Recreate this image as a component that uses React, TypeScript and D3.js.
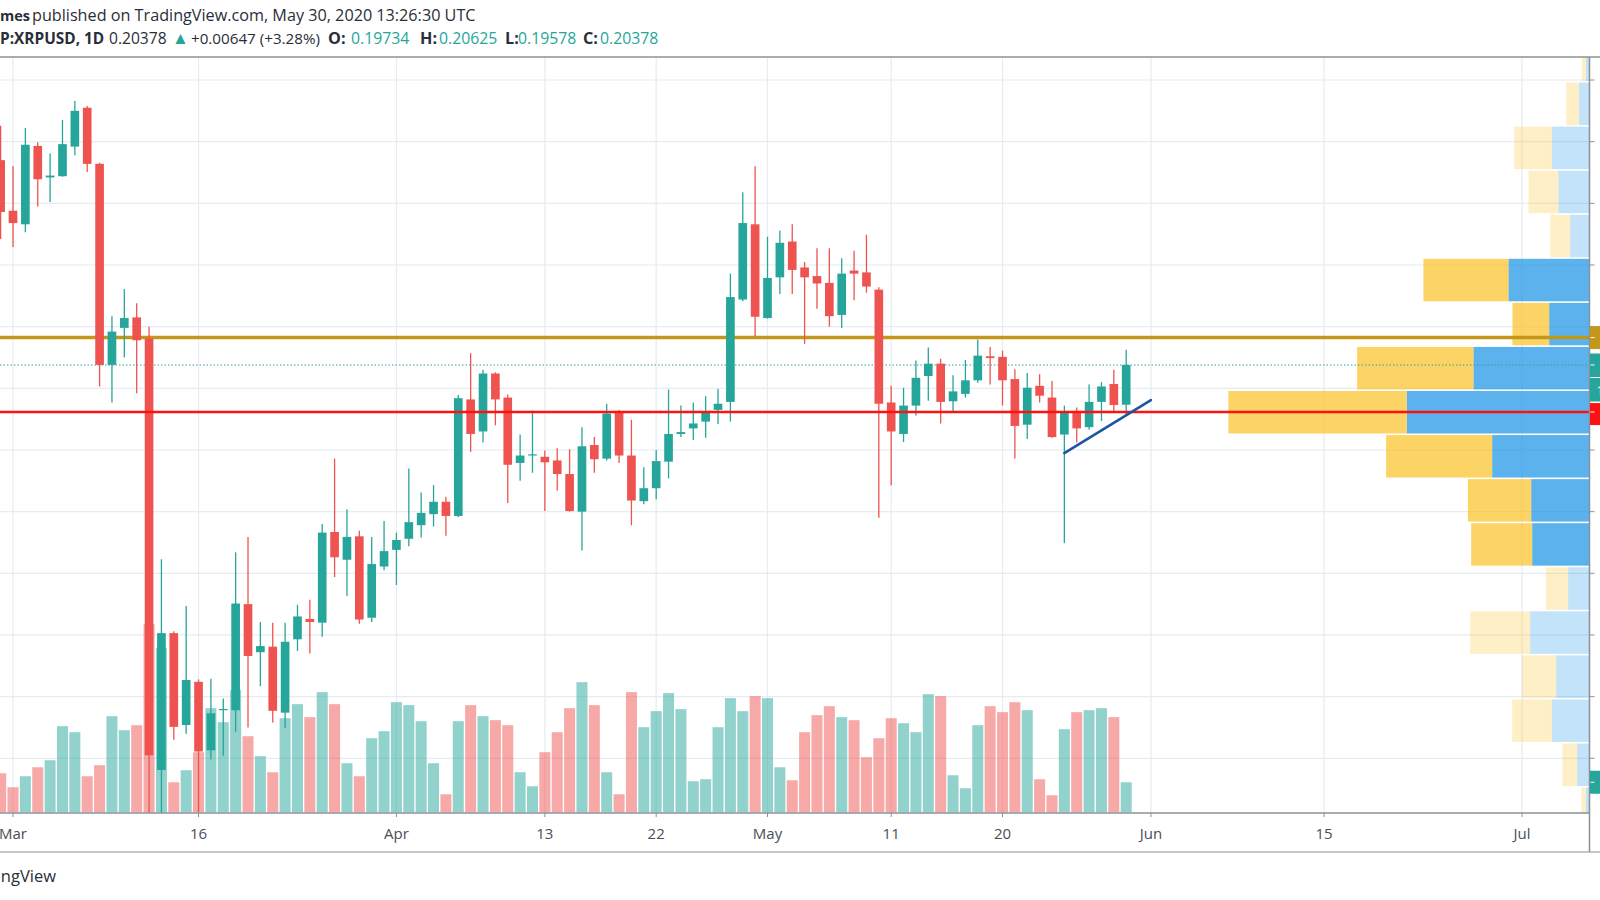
import React from "react";
import * as d3 from "d3";

// ---------- data ----------
const dates = [
  "2020-02-29",
  "2020-03-01","2020-03-02","2020-03-03","2020-03-04","2020-03-05","2020-03-06","2020-03-07","2020-03-08","2020-03-09","2020-03-10",
  "2020-03-11","2020-03-12","2020-03-13","2020-03-14","2020-03-15","2020-03-16","2020-03-17","2020-03-18","2020-03-19","2020-03-20",
  "2020-03-21","2020-03-22","2020-03-23","2020-03-24","2020-03-25","2020-03-26","2020-03-27","2020-03-28","2020-03-29","2020-03-30","2020-03-31",
  "2020-04-01","2020-04-02","2020-04-03","2020-04-04","2020-04-05","2020-04-06","2020-04-07","2020-04-08","2020-04-09","2020-04-10",
  "2020-04-11","2020-04-12","2020-04-13","2020-04-14","2020-04-15","2020-04-16","2020-04-17","2020-04-18","2020-04-19","2020-04-20",
  "2020-04-21","2020-04-22","2020-04-23","2020-04-24","2020-04-25","2020-04-26","2020-04-27","2020-04-28","2020-04-29","2020-04-30",
  "2020-05-01","2020-05-02","2020-05-03","2020-05-04","2020-05-05","2020-05-06","2020-05-07","2020-05-08","2020-05-09","2020-05-10",
  "2020-05-11","2020-05-12","2020-05-13","2020-05-14","2020-05-15","2020-05-16","2020-05-17","2020-05-18","2020-05-19","2020-05-20",
  "2020-05-21","2020-05-22","2020-05-23","2020-05-24","2020-05-25","2020-05-26","2020-05-27","2020-05-28","2020-05-29","2020-05-30",
];

const opens = [
  0.2370,
  0.2288,0.2266,0.2393,0.2342,0.2344,0.2392,0.2455,0.2364,0.2038,0.2098,
  0.2115,0.2081,0.1381,0.1603,0.1454,0.1524,0.1413,0.1478,0.1478,0.1650,
  0.1572,0.1581,0.1474,0.1593,0.1626,0.1620,0.1767,0.1722,0.1760,0.1628,0.1711,
  0.1738,0.1756,0.1778,0.1796,0.1816,0.1793,0.1982,0.1930,0.2024,0.1985,
  0.1879,0.1891,0.1889,0.1883,0.1861,0.1800,0.1908,0.1886,0.1962,0.1891,
  0.1817,0.1838,0.1881,0.1926,0.1935,0.1946,0.1965,0.1978,0.2144,0.2266,
  0.2114,0.2180,0.2238,0.2196,0.2182,0.2171,0.2119,0.2191,0.2188,0.2160,
  0.1977,0.1926,0.1972,0.2020,0.2040,0.1979,0.1991,0.2013,0.2052,0.2051,
  0.2015,0.1941,0.2004,0.1985,0.1925,0.1962,0.1937,0.1978,0.2007,0.19734,
];
const highs = [
  0.2426,
  0.2360,0.2422,0.2399,0.2381,0.2435,0.2466,0.2458,0.2366,0.2117,0.2161,
  0.2138,0.2100,0.1723,0.1606,0.1647,0.1528,0.1529,0.1497,0.1734,0.1759,
  0.1621,0.1620,0.1620,0.1649,0.1657,0.1780,0.1886,0.1804,0.1769,0.1759,0.1785,
  0.1766,0.1870,0.1831,0.1843,0.1824,0.1989,0.2057,0.2030,0.2026,0.1990,
  0.1925,0.1964,0.1899,0.1903,0.1901,0.1937,0.1921,0.1975,0.1965,0.1949,
  0.1872,0.1900,0.1998,0.1972,0.1977,0.1987,0.1999,0.2186,0.2318,0.2360,
  0.2246,0.2256,0.2266,0.2205,0.2227,0.2227,0.2211,0.2223,0.2249,0.2164,
  0.2004,0.2001,0.2045,0.2066,0.2048,0.2021,0.2046,0.2079,0.2067,0.2061,
  0.2031,0.2025,0.2023,0.2012,0.1972,0.1969,0.2006,0.2010,0.2030,0.20625,
];
const lows = [
  0.2242,
  0.2229,0.2253,0.2295,0.2302,0.2343,0.2378,0.2351,0.2003,0.1977,0.2050,
  0.1992,0.1250,0.1150,0.1430,0.1440,0.1313,0.1398,0.1404,0.1443,0.1450,
  0.1517,0.1458,0.1449,0.1574,0.1570,0.1597,0.1694,0.1663,0.1618,0.1621,0.1705,
  0.1681,0.1744,0.1758,0.1776,0.1761,0.1791,0.1897,0.1912,0.1940,0.1814,
  0.1850,0.1863,0.1801,0.1834,0.1800,0.1737,0.1863,0.1883,0.1879,0.1778,
  0.1812,0.1820,0.1854,0.1921,0.1916,0.1920,0.1942,0.1946,0.2141,0.2085,
  0.2113,0.2153,0.2153,0.2072,0.2129,0.2100,0.2098,0.2143,0.2155,0.1790,
  0.1843,0.1913,0.1956,0.1980,0.1943,0.1961,0.1985,0.2009,0.2006,0.1972,
  0.1886,0.1918,0.1977,0.1920,0.1749,0.1912,0.1933,0.1947,0.1960,0.19578,
];
const closes = [
  0.2286,
  0.2268,0.2395,0.2339,0.2345,0.2396,0.2450,0.2364,0.2038,0.2092,0.2114,
  0.2078,0.1405,0.1603,0.1451,0.1527,0.1411,0.1473,0.1480,0.1651,0.1566,
  0.1582,0.1477,0.1589,0.1630,0.1621,0.1766,0.1726,0.1759,0.1625,0.1715,0.1736,
  0.1754,0.1783,0.1798,0.1816,0.1793,0.1984,0.1926,0.2024,0.1982,0.1876,
  0.1891,0.1893,0.1880,0.1861,0.1801,0.1906,0.1885,0.1959,0.1891,0.1818,
  0.1838,0.1882,0.1926,0.1929,0.1943,0.1963,0.1975,0.2148,0.2268,0.2116,
  0.2179,0.2236,0.2192,0.2180,0.2170,0.2117,0.2186,0.2186,0.2165,0.1975,
  0.1930,0.1972,0.2017,0.2040,0.1978,0.1995,0.2013,0.2053,0.2049,0.2013,
  0.1939,0.2001,0.1988,0.1921,0.1962,0.1935,0.1978,0.2003,0.1973,0.20378,
];
// volume, millions of XRP (relative)
const volumes = [
  39,
  25,36,45,52,86,80,36,47,96,82,
  87,188,164,30,42,60,104,90,122,76,
  56,40,94,108,95,120,108,49,36,74,81,
  110,107,91,49,18,91,107,96,92,87,
  40,26,60,80,104,130,107,40,18,120,
  85,101,119,103,31,33,85,114,101,116,
  114,45,32,80,97,106,95,92,55,74,
  94,89,80,118,116,37,24,87,106,100,
  110,102,33,17,83,100,102,104,95,30,
];

// visible-range volume profile (top row first)
const profileTopPrice = 0.25683;
const profileRowSize = 0.007146;
const profileUp = [3.6, 10.3, 37.6, 31, 19.3, 81, 40.3, 116, 182.6, 97.3, 58.3, 57.3, 21.3, 59.3, 33.3, 37.6, 12.3, 3.6];
const profileDown = [4, 13, 37.7, 30, 20, 85, 36.7, 116.3, 178.4, 106, 63.3, 61, 22.3, 60, 34.3, 39.7, 14.7, 4.4];
const profileValueArea = [false, false, false, false, false, true, true, true, true, true, true, true, false, false, false, false, false, false];

const priceTicks = [0.14, 0.15, 0.16, 0.17, 0.18, 0.19, 0.2, 0.21, 0.22, 0.23, 0.24, 0.25];
const timeTickDates = ["2020-03-01","2020-03-16","2020-04-01","2020-04-13","2020-04-22","2020-05-01","2020-05-11","2020-05-20","2020-06-01","2020-06-15","2020-07-01"];
const timeTickLabels = ["Mar","16","Apr","13","22","May","11","20","Jun","15","Jul"];

const goldLevel = 0.20823;
const redLevel = 0.19615;
const lastPrice = 0.20378;
const trendStart = { date: "2020-05-25", price: 0.1895 };
const trendEnd = { date: "2020-06-01", price: 0.1981 };

// header legend: OHLC groups
const ohlcLabels = ["O:", "H:", "L:", "C:"];
const ohlcValues = ["0.19734", "0.20625", "0.19578", "0.20378"];
const ohlcLabelX = [328, 420, 505, 583];
const ohlcValueX = [351, 439, 518, 600];

// ---------- layout ----------
const W = 1600;
const H = 900;
const paneTop = 57;
const paneBottom = 813;
const paneRight = 1589.5;
const axisBottom = 852;

const UP = "#26a69a";
const DOWN = "#ef5350";
const FONT = "'Open Sans', 'Noto Sans', sans-serif";
const TEXT = "#2a2e39";

const parse = (s: string) => new Date(s + "T00:00:00Z");

export default function App() {
  const x = d3.scaleUtc().domain([parse("2020-03-01"), parse("2020-07-01")]).range([13, 1522]);
  const y = d3.scaleLinear().domain([0.14, 0.25]).range([758.3, 80]);
  const dayW = x(parse("2020-03-02")) - x(parse("2020-03-01"));
  const bodyW = dayW * 0.7;
  const volW = dayW * 0.89;
  const volMax = d3.max(volumes) as number;
  const yVol = d3.scaleLinear().domain([0, volMax]).range([paneBottom - 0.7, paneBottom - 0.7 - (paneBottom - paneTop) * 0.249]);
  const profMax = d3.max(profileUp.map((u, i) => u + profileDown[i])) as number;
  const wProf = d3.scaleLinear().domain([0, profMax]).range([0, paneRight * 0.2272]);

  const candles = dates.map((d, i) => ({
    x: x(parse(d)),
    o: opens[i], h: highs[i], l: lows[i], c: closes[i], v: volumes[i],
    up: closes[i] >= opens[i],
  }));

  const gridColor = "#e6ecf1";
  const axisColor = "#8d9097";
  const lastVol = volumes[volumes.length - 1];

  return (
    <svg width={W} height={H} style={{ position: "fixed", left: 0, top: 0, background: "#fff" }} fontFamily={FONT}>
      <defs>
        <clipPath id="pane">
          <rect x={0} y={paneTop} width={paneRight} height={paneBottom - paneTop} />
        </clipPath>
      </defs>
      <rect x={0} y={0} width={W} height={H} fill="#fff" />

      {/* header */}
      <text x={0} y={21} fontSize={14.5} fontWeight={700} fill={TEXT}>mes</text>
      <text x={32} y={21} fontSize={16.2} fill={TEXT}>published on TradingView.com, May 30, 2020 13:26:30 UTC</text>
      <text x={0} y={44} fontSize={15.4} fontWeight={700} fill={TEXT}>P:XRPUSD, 1D</text>
      <text x={109} y={44} fontSize={15.6} fill={TEXT}>0.20378</text>
      <text x={172} y={44} fontSize={17} fill={UP}>▲</text>
      <text x={191} y={44} fontSize={15.2} fill={TEXT}>+0.00647 (+3.28%)</text>
      {ohlcLabels.map((lab, i) => (
        <g key={"ohlc" + i}>
          <text x={ohlcLabelX[i]} y={44} fontSize={16.2} fontWeight={700} fill={TEXT}>{lab}</text>
          <text x={ohlcValueX[i]} y={44} fontSize={15.8} fill={UP}>{ohlcValues[i]}</text>
        </g>
      ))}

      {/* grid */}
      <g clipPath="url(#pane)">
        {priceTicks.map((p) => (
          <line key={"h" + p} x1={0} x2={paneRight} y1={y(p)} y2={y(p)} stroke={gridColor} strokeWidth={1.2} />
        ))}
        {timeTickDates.map((d) => (
          <line key={"v" + d} x1={x(parse(d))} x2={x(parse(d))} y1={paneTop} y2={paneBottom} stroke={gridColor} strokeWidth={1.2} />
        ))}
      </g>

      <g clipPath="url(#pane)">
        {/* volume */}
        {candles.map((c, i) => (
          <rect key={"vol" + i} x={c.x - volW / 2} y={yVol(c.v)} width={volW} height={yVol(0) - yVol(c.v)}
            fill={c.up ? UP : DOWN} fillOpacity={0.5} />
        ))}

        {/* volume profile */}
        {profileUp.map((u, i) => {
          const top = profileTopPrice - i * profileRowSize;
          const y0 = y(top);
          const y1 = y(top - profileRowSize);
          const wu = wProf(u);
          const wd = wProf(profileDown[i]);
          const op = profileValueArea[i] ? 0.7 : 0.26;
          return (
            <g key={"vp" + i}>
              <rect x={paneRight - wu} y={y0 + 0.6} width={wu} height={y1 - y0 - 1.6} fill="#1592e6" fillOpacity={op} />
              <rect x={paneRight - wu - wd} y={y0 + 0.6} width={wd} height={y1 - y0 - 1.6} fill="#fbc123" fillOpacity={op} />
            </g>
          );
        })}

        {/* horizontal levels */}
        <line x1={0} x2={paneRight} y1={y(goldLevel)} y2={y(goldLevel)} stroke="#c4961a" strokeWidth={3.4} />
        <line x1={0} x2={paneRight} y1={y(lastPrice)} y2={y(lastPrice)} stroke={UP} strokeWidth={1} strokeDasharray="1.5 2" />

        {/* candles */}
        {candles.map((c, i) => {
          const col = c.up ? UP : DOWN;
          const top = y(Math.max(c.o, c.c));
          const bot = y(Math.min(c.o, c.c));
          return (
            <g key={"c" + i}>
              <line x1={c.x} x2={c.x} y1={y(c.h)} y2={y(c.l)} stroke={col} strokeWidth={1.3} />
              <rect x={c.x - bodyW / 2} y={top} width={bodyW} height={Math.max(1.2, bot - top)} fill={col} />
            </g>
          );
        })}

        <line x1={0} x2={paneRight} y1={y(redLevel)} y2={y(redLevel)} stroke="#ff1111" strokeWidth={2.6} />

        {/* trend line */}
        <line x1={x(parse(trendStart.date))} y1={y(trendStart.price)} x2={x(parse(trendEnd.date))} y2={y(trendEnd.price)}
          stroke="#1d56a0" strokeWidth={2.6} strokeLinecap="round" />
      </g>

      {/* frame */}
      <line x1={0} x2={W} y1={paneTop} y2={paneTop} stroke={axisColor} strokeWidth={1.5} />
      <line x1={0} x2={paneRight} y1={paneBottom} y2={paneBottom} stroke={axisColor} strokeWidth={1.5} />
      <line x1={0} x2={W} y1={axisBottom} y2={axisBottom} stroke={axisColor} strokeWidth={1.2} />
      <line x1={paneRight} x2={paneRight} y1={paneTop} y2={axisBottom} stroke={axisColor} strokeWidth={1.5} />

      {/* price axis ticks */}
      {priceTicks.map((p) => (
        <line key={"pt" + p} x1={paneRight} x2={paneRight + 5} y1={y(p)} y2={y(p)} stroke={axisColor} strokeWidth={1} />
      ))}

      {/* price axis labels (cut by the image edge) */}
      <rect x={paneRight + 0.5} y={y(goldLevel) - 11.5} width={30} height={23} fill="#c4961a" />
      <rect x={paneRight + 0.5} y={y(lastPrice) - 11.5} width={30} height={23.5} fill={UP} />
      <rect x={paneRight + 0.5} y={y(lastPrice) + 13} width={30} height={23.5} fill={UP} />
      <text x={paneRight + 7} y={y(lastPrice) + 29.5} fontSize={13} fill="#fff">10:33:30</text>
      <rect x={paneRight + 0.5} y={y(redLevel) - 9} width={30} height={22} fill="#ff1111" />
      <rect x={paneRight + 0.5} y={yVol(lastVol) - 11.5} width={30} height={23} fill={UP} />
      {[goldLevel, lastPrice, redLevel].map((p) => (
        <line key={"lt" + p} x1={paneRight + 1} x2={paneRight + 5} y1={y(p)} y2={y(p)} stroke="#fff" strokeWidth={1} />
      ))}
      <line x1={paneRight + 1} x2={paneRight + 5} y1={yVol(lastVol)} y2={yVol(lastVol)} stroke="#fff" strokeWidth={1} />

      {/* time axis */}
      {timeTickDates.map((d, i) => (
        <g key={"tt" + d}>
          <line x1={x(parse(d))} x2={x(parse(d))} y1={paneBottom} y2={paneBottom + 4} stroke={axisColor} strokeWidth={1} />
          <text x={x(parse(d))} y={839} fontSize={15} textAnchor="middle" fill="#4a4e59">{timeTickLabels[i]}</text>
        </g>
      ))}

      {/* footer */}
      <text x={56} y={882} fontSize={16.5} textAnchor="end" fill={TEXT}>TradingView</text>
    </svg>
  );
}
